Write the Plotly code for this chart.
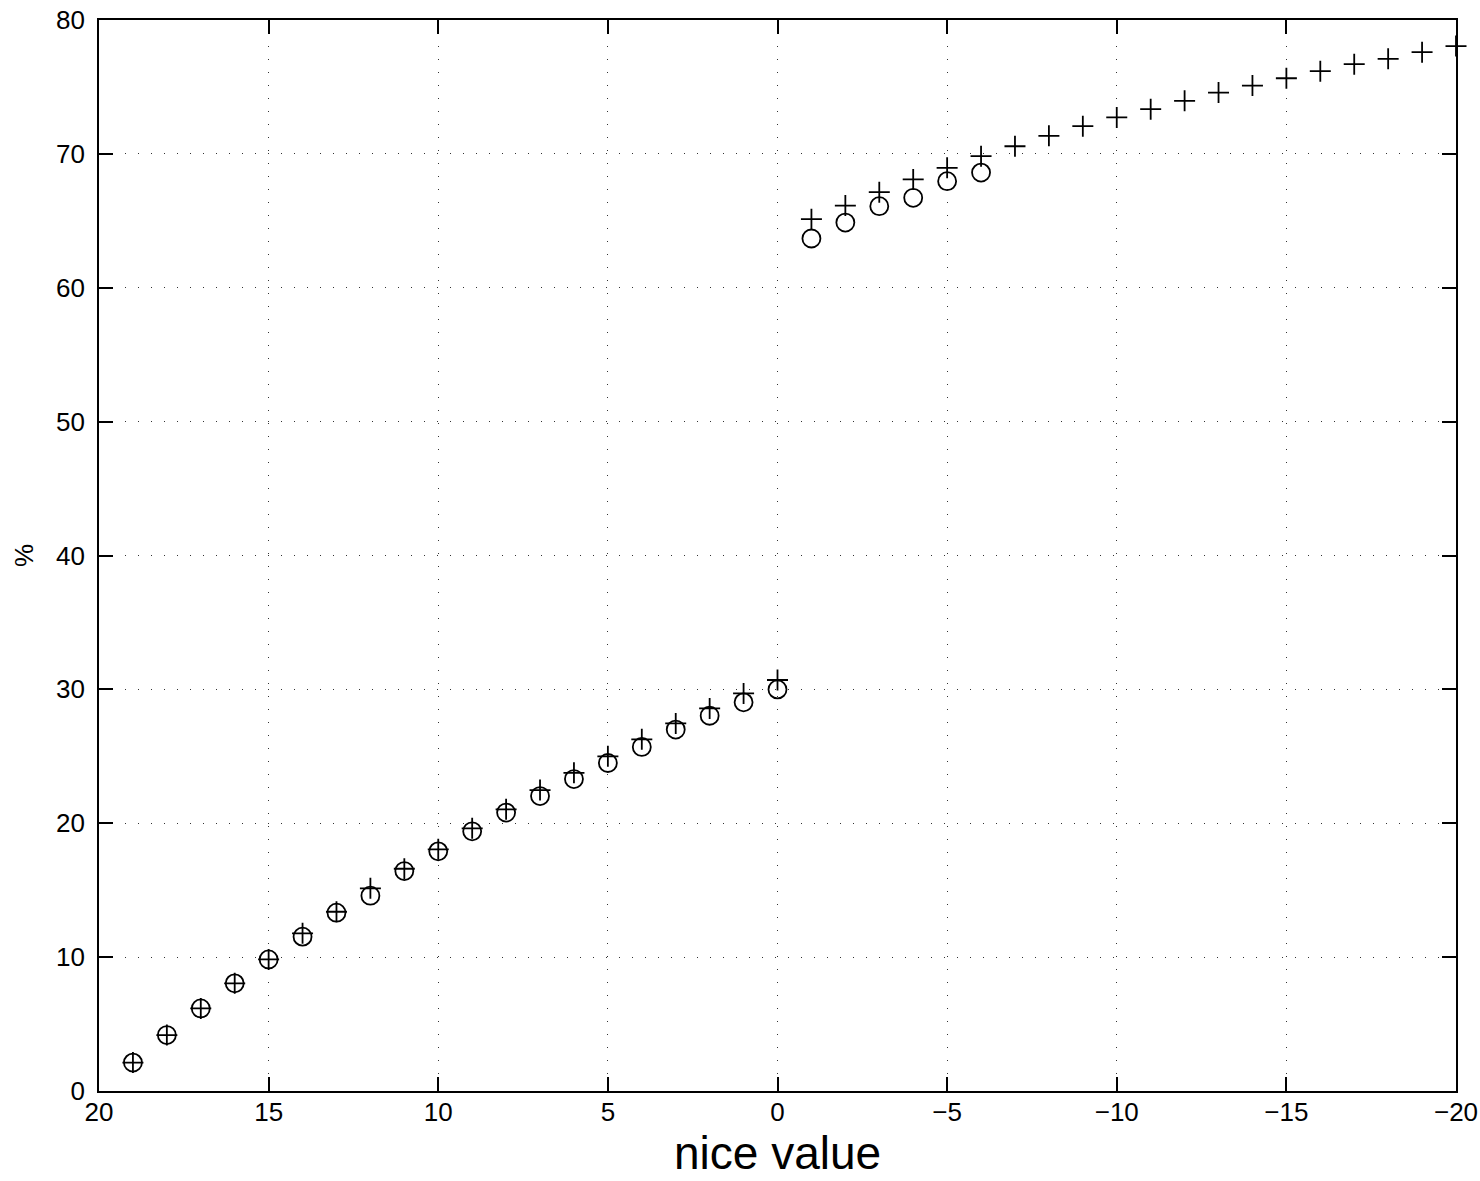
import plotly.graph_objects as go

# "+" series: nice value 19 ... 0, then -1 ... -20
nice_plus = list(range(19, -1, -1)) + list(range(-1, -21, -1))
plus_vals = [2.12, 4.18, 6.17, 8.04, 9.83, 11.78, 13.39, 15.14, 16.6, 18.05,
             19.62, 21.04, 22.48, 23.77, 25.0, 26.27, 27.46, 28.58, 29.7, 30.7,
             65.12, 66.14, 67.14, 68.09, 68.96, 69.83, 70.57, 71.35, 72.07, 72.72,
             73.34, 73.96, 74.58, 75.1, 75.65, 76.18, 76.7, 77.1, 77.6, 78.05]

# "o" series: nice value 19 ... 0, then -1 ... -6
nice_circ = list(range(19, -1, -1)) + list(range(-1, -7, -1))
circ_vals = [2.12, 4.18, 6.17, 8.04, 9.83, 11.53, 13.32, 14.59, 16.43, 17.9,
             19.4, 20.8, 22.03, 23.3, 24.5, 25.7, 27.0, 28.03, 29.03, 30.0,
             63.68, 64.87, 66.09, 66.72, 67.96, 68.6]

x_ticks = [20, 15, 10, 5, 0, -5, -10, -15, -20]
y_ticks = [0, 10, 20, 30, 40, 50, 60, 70, 80]

FONT = "Liberation Sans, Arial, Helvetica, sans-serif"

fig = go.Figure()
fig.add_trace(go.Scatter(
    x=nice_plus, y=plus_vals, mode="markers",
    marker=dict(symbol="cross-thin-open", size=15, color="black",
                line=dict(color="black", width=1.8)),
    showlegend=False, cliponaxis=False))
fig.add_trace(go.Scatter(
    x=nice_circ, y=circ_vals, mode="markers",
    marker=dict(symbol="circle-open", size=18, color="black",
                line=dict(color="black", width=1.8)),
    showlegend=False, cliponaxis=False))

axis_common = dict(
    showline=True, linecolor="black", linewidth=1.8, mirror="ticks",
    ticks="inside", ticklen=14, tickwidth=1.5, tickcolor="black",
    showgrid=True, gridcolor="#333", gridwidth=1, griddash="1px,12px",
    zeroline=False, automargin=False,
    tickfont=dict(family=FONT, size=26, color="black"),
)

fig.update_xaxes(range=[20, -20], tickvals=x_ticks, ticklabelstandoff=-3, **axis_common)
fig.update_yaxes(range=[0, 80], tickvals=y_ticks, ticklabelstandoff=7,
                 title=dict(text="%", font=dict(family=FONT, size=26, color="black")),
                 **axis_common)

# x-axis title placed as an annotation for exact positioning
fig.add_annotation(text="nice value", xref="paper", yref="paper",
                   x=0.5, y=-0.0575, xanchor="center", yanchor="middle",
                   showarrow=False, font=dict(family=FONT, size=46, color="black"))

fig.update_layout(
    width=1480, height=1181,
    margin=dict(l=99, r=24, t=20, b=90),
    plot_bgcolor="white", paper_bgcolor="white",
)

fig.write_html("out.html")
